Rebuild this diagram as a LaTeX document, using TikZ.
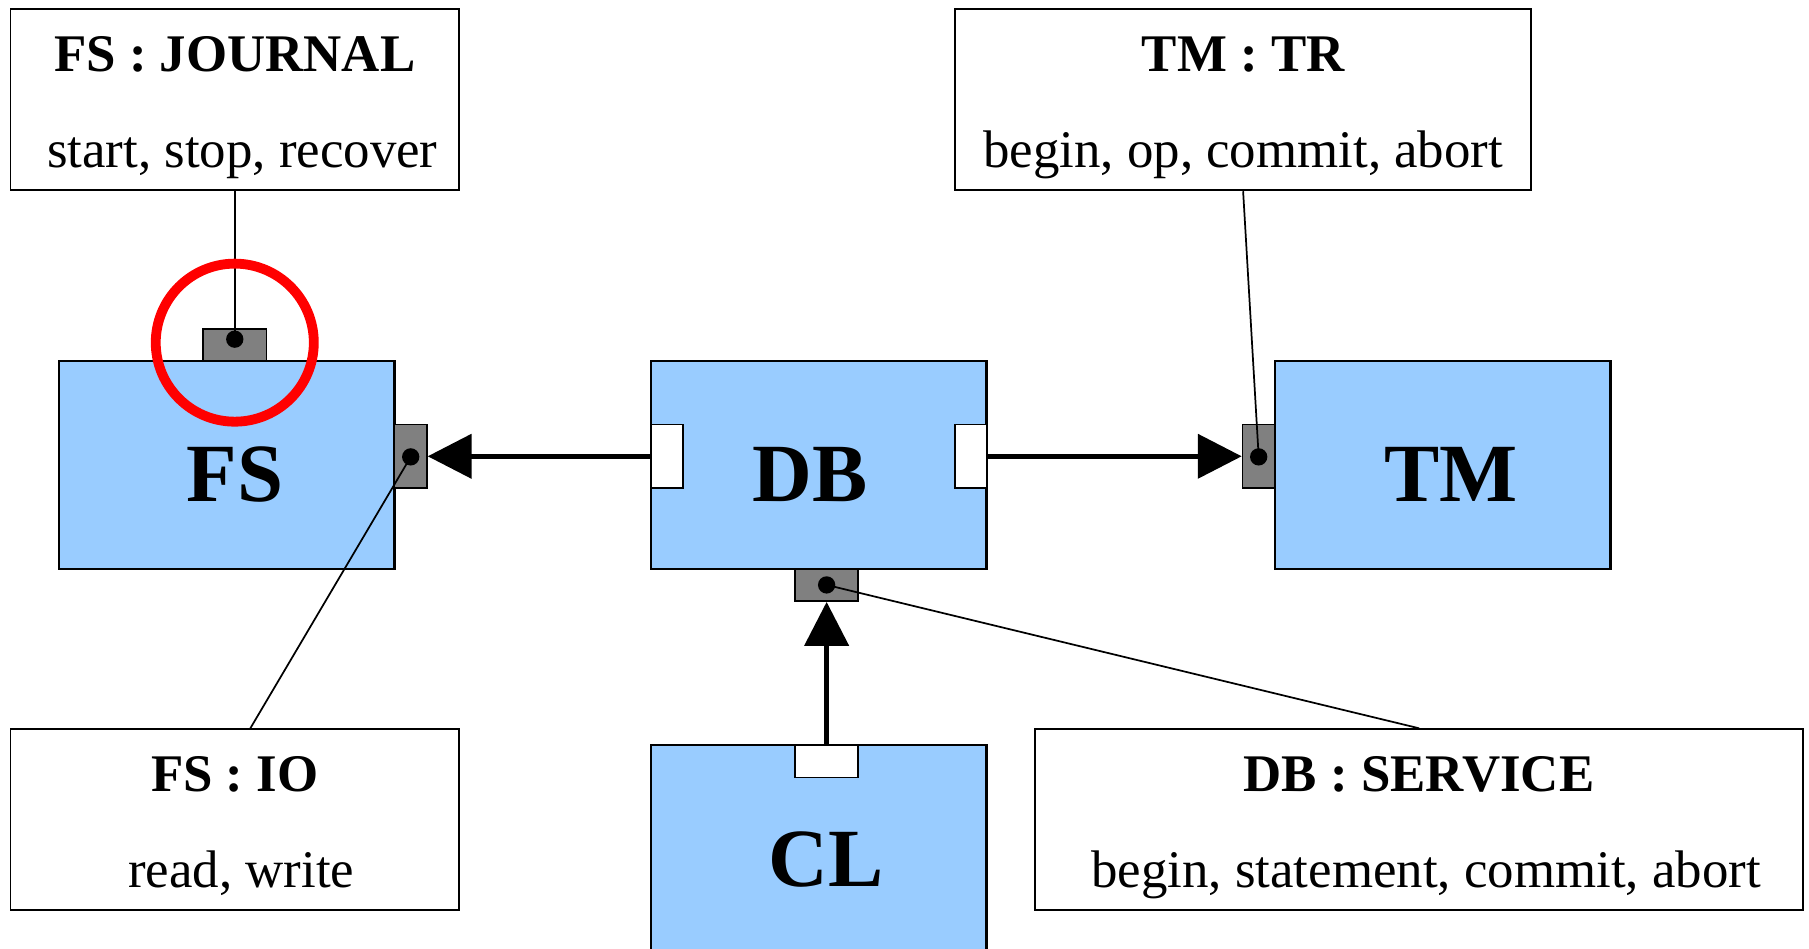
\documentclass[tikz,border=0pt]{standalone}
\usepackage{fontspec}
\setmainfont{Liberation Serif}
\usetikzlibrary{arrows.meta}
\definecolor{compblue}{HTML}{99CCFF}
\definecolor{portgray}{HTML}{808080}
\definecolor{hlred}{HTML}{FF0000}
\tikzset{
  comp/.style={draw, line width=2bp, fill=compblue, minimum width=291bp, minimum height=180bp, inner sep=0pt},
  complabel/.style={font=\fontsize{72}{80}\selectfont\bfseries, anchor=base, inner sep=0pt},
  infobox/.style={draw, line width=1.5bp, fill=white, minimum height=157bp, inner sep=0pt},
  headtext/.style={font=\fontsize{46}{52}\selectfont\bfseries, anchor=base, inner sep=0pt},
  bodytext/.style={font=\fontsize{46}{52}\selectfont, anchor=base, inner sep=0pt},
  gporth/.style={draw, line width=1.5bp, fill=portgray, minimum width=55bp, minimum height=28bp, inner sep=0pt},
  gportv/.style={draw, line width=1.5bp, fill=portgray, minimum width=28bp, minimum height=55bp, inner sep=0pt},
  wporth/.style={draw, line width=1.5bp, fill=white, minimum width=55bp, minimum height=28bp, inner sep=0pt},
  wportv/.style={draw, line width=1.5bp, fill=white, minimum width=28bp, minimum height=55bp, inner sep=0pt},
  portdot/.style={circle, fill=black, minimum size=15bp, inner sep=0pt},
  thinline/.style={line width=1.5bp},
  arr/.style={line width=4bp, -{Triangle[length=38bp,width=38bp]}},
}
\begin{document}
\begin{tikzpicture}[x=1bp,y=-1bp]
\useasboundingbox (0,0) rectangle (1568,822);
% info boxes
\node[infobox, minimum width=389bp] (J) at (203.5,86.5) {};
\node[headtext] (Jh) at (203.5,62) {FS : JOURNAL};
\node[bodytext] (Jb) at (210,145) {start, stop, recover};
\node[infobox, minimum width=499bp] (TR) at (1077.5,86.5) {};
\node[headtext] (TRh) at (1077.5,62) {TM : TR};
\node[bodytext] (TRb) at (1077.5,145) {begin, op, commit, abort};
\node[infobox, minimum width=389bp] (IO) at (203.5,710.5) {};
\node[headtext] (IOh) at (203.5,686) {FS : IO};
\node[bodytext] (IOb) at (209,769) {read, write};
\node[infobox, minimum width=666bp] (SV) at (1230,710.5) {};
\node[headtext] (SVh) at (1230,686) {DB : SERVICE};
\node[bodytext] (SVb) at (1236,769) {begin, statement, commit, abort};
% components
\node[comp] (FS) at (196.5,403) {};
\node[complabel] (FSl) at (203.5,435) {FS};
\node[comp] (DB) at (709.5,403) {};
\node[complabel] (DBl) at (702,435) {DB};
\node[comp] (TM) at (1250.5,403) {};
\node[complabel] (TMl) at (1258,435) {TM};
\node[comp, minimum height=200bp] (CL) at (709.5,746) {};
\node[complabel] (CLl) at (716,768) {CL};
% ports
\node[gporth] (FSj) at (203.5,299) {};
\node[gportv] (FSr) at (356,395.5) {};
\node[wportv] (DBw) at (578,395.5) {};
\node[wportv] (DBe) at (841.5,395.5) {};
\node[gportv] (TMw) at (1091,395.5) {};
\node[gporth] (DBs) at (716.5,507) {};
\node[wporth] (CLn) at (716.5,660) {};
% dots
\node[portdot] (dFSj) at (203.5,294) {};
\node[portdot] (dFSr) at (356,396) {};
\node[portdot] (dTMw) at (1091,396) {};
\node[portdot] (dDBs) at (716.5,507) {};
% thin lines
\draw[thinline] (J.south) -- (dFSj.center);
\draw[thinline] (TR.south) -- (dTMw.center);
\draw[thinline] ([xshift=13.5bp]IO.north) -- (dFSr.center);
\draw[thinline] (SV.north) -- (dDBs.center);
% arrows
\draw[arr] (DBw.west) -- (FSr.east);
\draw[arr] (DBe.east) -- (TMw.west);
\draw[arr] (CLn.north) -- (DBs.south);
% highlight
\node[draw=hlred, line width=8.5bp, circle, minimum size=137bp, inner sep=0pt] (hl) at (203.5,297) {};
\end{tikzpicture}
\end{document}
